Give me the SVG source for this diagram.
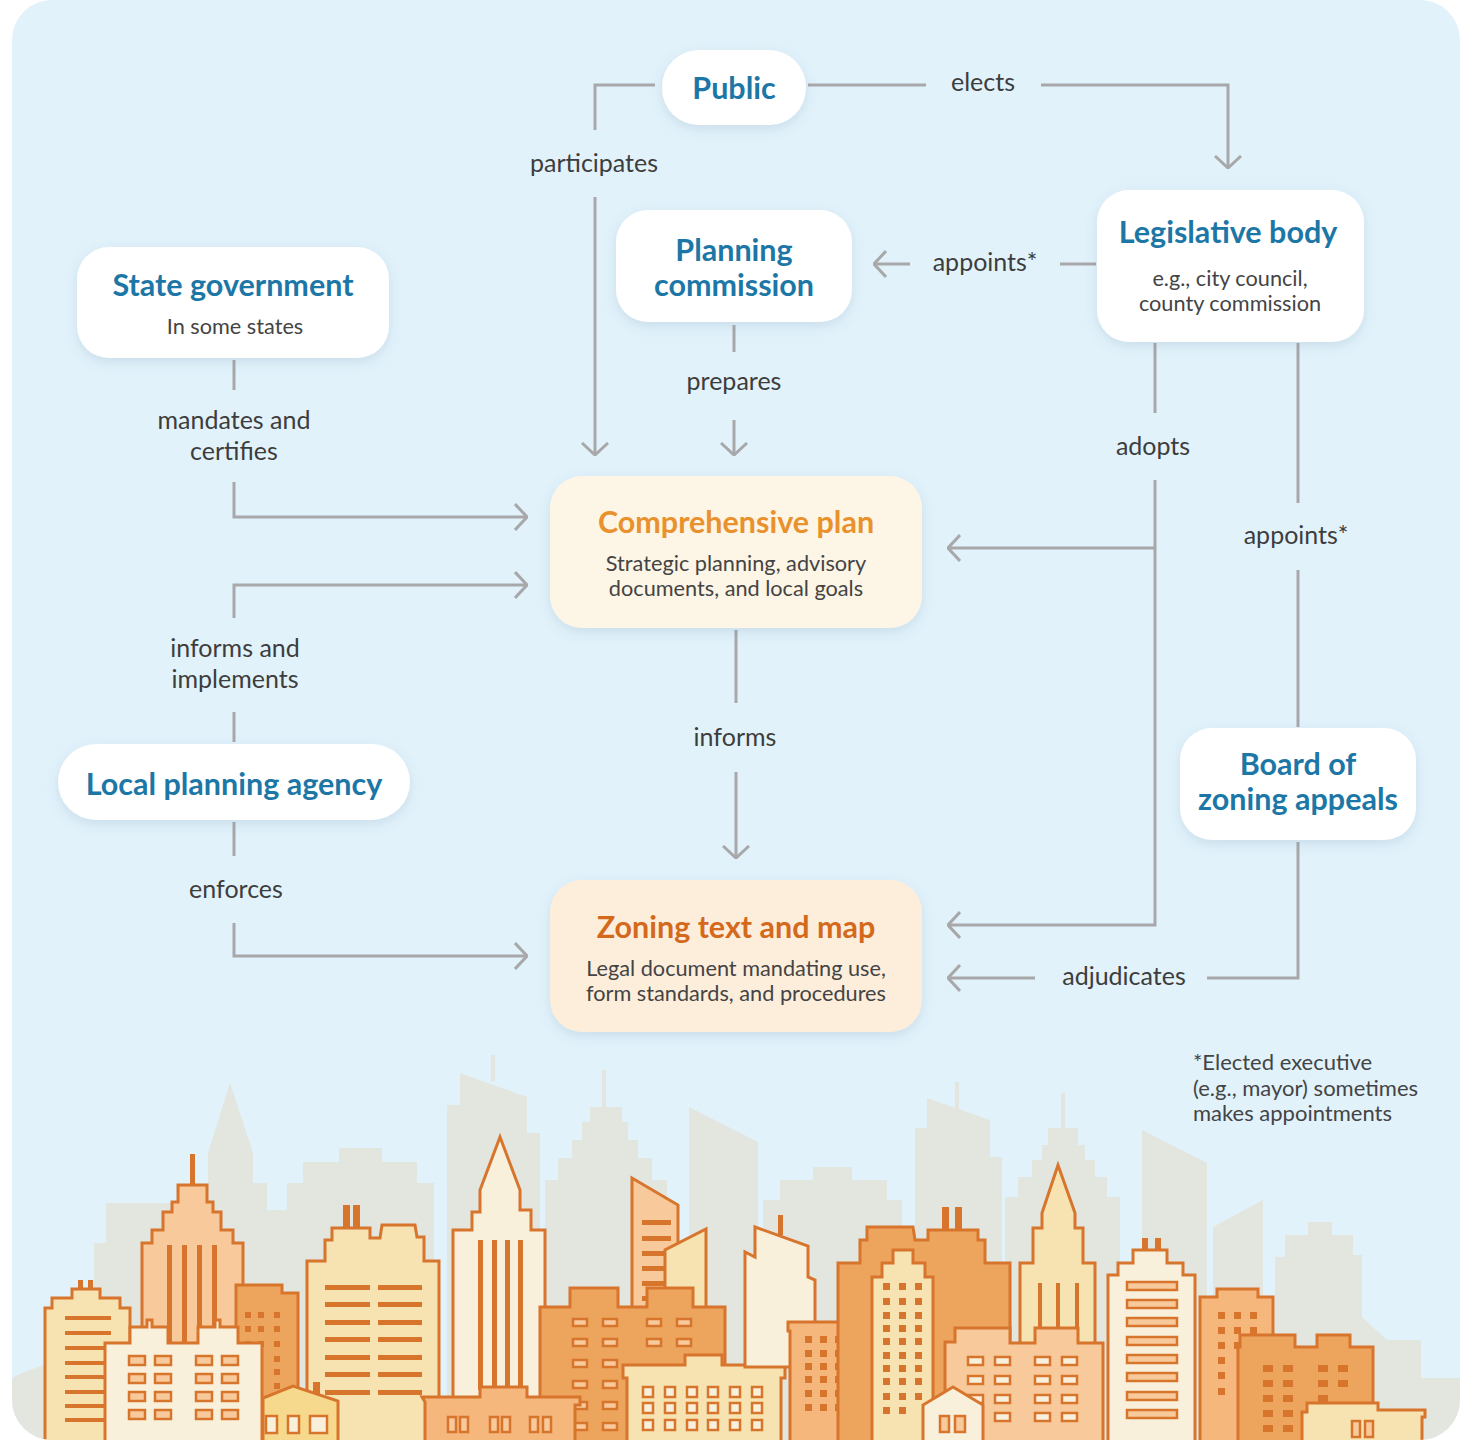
<svg xmlns="http://www.w3.org/2000/svg" width="1460" height="1440" viewBox="0 0 1460 1440">
  <defs>
    <style>
      .node { fill: #ffffff; filter: url(#shadow); }
      .plan { fill: #fdf5e5; filter: url(#shadow); }
      .zone { fill: #fdeedc; filter: url(#shadow); }
      .title { font-family: Lato, "Liberation Sans", sans-serif; font-weight: 700; font-size: 30.5px; fill: #1d77a6; text-anchor: middle; }
      .sub { font-family: Lato, "Liberation Sans", sans-serif; font-size: 21.7px; fill: #444444; text-anchor: middle; }
      .label { font-family: Lato, "Liberation Sans", sans-serif; font-size: 25px; fill: #3d3d3d; text-anchor: middle; }
      .note { font-family: Lato, "Liberation Sans", sans-serif; font-size: 22px; fill: #444444; }
      .edge { fill: none; stroke: #a8a8aa; stroke-width: 3; }
      .arrow { marker-end: url(#chev); }
      .bg-bld { fill: #e3e5df; }
      .bld { stroke: #d8752d; stroke-width: 3; stroke-linejoin: miter; }
      .yel { fill: #f7e3b2; }
      .crm { fill: #f9f0dc; }
      .lor { fill: #f8c99a; }
      .mor { fill: #f5b77c; }
      .org { fill: #eda55e; }
      .hse { fill: #f7d98d; }
      .dk { fill: #d8752d; }
      .win { fill: #f8c99a; stroke: #d8752d; stroke-width: 2.5; }
      .winc { fill: #f9f0dc; stroke: #d8752d; stroke-width: 2.5; }
    </style>
    <filter id="shadow" x="-20%" y="-30%" width="140%" height="170%">
      <feDropShadow dx="0" dy="4" stdDeviation="6" flood-color="#5a7f99" flood-opacity="0.18"/>
    </filter>
    <marker id="chev" viewBox="0 0 14 28" refX="13" refY="14" markerWidth="14" markerHeight="28" markerUnits="userSpaceOnUse" orient="auto">
      <path d="M1,1 L13,14 L1,27" fill="none" stroke="#a8a8aa" stroke-width="3"/>
    </marker>
    <clipPath id="panel">
      <rect x="12" y="0" width="1448" height="1440" rx="40"/>
    </clipPath>
  </defs>

  <!-- panel background -->
  <rect x="0" y="0" width="1460" height="1440" fill="#ffffff"/>
  <rect x="12" y="0" width="1448" height="1440" rx="40" fill="#e1f2fb"/>

  <!-- skyline -->
  <g id="skyline" clip-path="url(#panel)">
    <!-- distant grey silhouettes -->
    <g id="skyline-back">
      <path class="bg-bld" d="M12,1378 Q30,1368 70,1358 L70,1440 L12,1440 Z"/>
      <path class="bg-bld" d="M94,1440 L94,1243 L106,1243 L106,1203 L210,1203 L210,1440 Z"/>
      <path class="bg-bld" d="M208,1440 L208,1153 L230,1083 L253,1153 L253,1440 Z"/>
      <path class="bg-bld" d="M253,1440 L253,1183 L267,1183 L267,1210 L287,1210 L287,1183 L303,1183 L303,1162 L339,1162 L339,1148 L382,1148 L382,1162 L417,1162 L417,1183 L434,1183 L434,1440 Z"/>
      <path class="bg-bld" d="M447,1440 L447,1105 L460,1105 L460,1073 L527,1097 L527,1133 L540,1133 L540,1440 Z"/>
      <rect class="bg-bld" x="491" y="1055" width="4" height="26"/>
      <path class="bg-bld" d="M545,1440 L545,1180 L558,1180 L558,1158 L572,1158 L572,1140 L582,1140 L582,1122 L590,1122 L590,1107 L622,1107 L622,1122 L628,1122 L628,1140 L638,1140 L638,1158 L652,1158 L652,1180 L667,1180 L667,1440 Z"/>
      <rect class="bg-bld" x="602" y="1070" width="4" height="38"/>
      <path class="bg-bld" d="M689,1440 L689,1107 L758,1142 L758,1440 Z"/>
      <path class="bg-bld" d="M763,1440 L763,1200 L780,1200 L780,1180 L813,1180 L813,1167 L852,1167 L852,1180 L887,1180 L887,1200 L902,1200 L902,1440 Z"/>
      <path class="bg-bld" d="M915,1440 L915,1128 L927,1128 L927,1098 L990,1120 L990,1157 L1002,1157 L1002,1440 Z"/>
      <rect class="bg-bld" x="955" y="1082" width="4" height="30"/>
      <path class="bg-bld" d="M1005,1440 L1005,1197 L1018,1197 L1018,1177 L1032,1177 L1032,1160 L1042,1160 L1042,1145 L1048,1145 L1048,1128 L1078,1128 L1078,1145 L1085,1145 L1085,1160 L1095,1160 L1095,1177 L1107,1177 L1107,1197 L1120,1197 L1120,1440 Z"/>
      <rect class="bg-bld" x="1061" y="1093" width="4" height="36"/>
      <path class="bg-bld" d="M1142,1440 L1142,1130 L1207,1163 L1207,1440 Z"/>
      <path class="bg-bld" d="M1213,1440 L1213,1227 L1263,1200 L1263,1440 Z"/>
      <path class="bg-bld" d="M1275,1440 L1275,1257 L1285,1257 L1285,1235 L1308,1235 L1308,1222 L1332,1222 L1332,1235 L1353,1235 L1353,1255 L1362,1255 L1362,1317 L1387,1340 L1421,1340 L1421,1378 L1460,1378 L1460,1440 Z"/>
    </g>

    <!-- foreground buildings -->
    <g id="skyline-front">
      <!-- left striped block -->
      <path class="bld yel" d="M45,1445 L45,1308 L52,1308 L52,1298 L72,1298 L72,1289 L100,1289 L100,1298 L120,1298 L120,1308 L130,1308 L130,1445 Z"/>
      <rect class="dk" x="78" y="1280" width="5" height="10"/>
      <rect class="dk" x="88" y="1280" width="5" height="10"/>
      <g class="dk">
        <rect x="65" y="1316" width="46" height="4"/><rect x="65" y="1331" width="46" height="4"/>
        <rect x="65" y="1346" width="46" height="4"/><rect x="65" y="1361" width="46" height="4"/>
        <rect x="65" y="1375" width="46" height="4"/><rect x="65" y="1390" width="46" height="4"/>
        <rect x="65" y="1404" width="46" height="4"/><rect x="65" y="1418" width="46" height="4"/>
      </g>

      <!-- stepped spire tower -->
      <rect class="dk" x="190" y="1154" width="5" height="32"/>
      <path class="bld lor" d="M142,1445 L142,1243 L152,1243 L152,1230 L163,1230 L163,1212 L172,1212 L172,1202 L178,1202 L178,1185 L207,1185 L207,1202 L213,1202 L213,1212 L221,1212 L221,1230 L233,1230 L233,1243 L243,1243 L243,1445 Z"/>
      <g class="dk">
        <rect x="167" y="1245" width="5" height="97"/><rect x="182" y="1245" width="5" height="97"/>
        <rect x="197" y="1245" width="5" height="97"/><rect x="212" y="1245" width="5" height="97"/>
      </g>

      <!-- orange block behind -->
      <path class="bld org" d="M236,1445 L236,1285 L282,1285 L282,1293 L298,1293 L298,1445 Z"/>
      <g class="dk">
        <rect x="245" y="1312" width="6" height="6"/><rect x="258" y="1312" width="6" height="6"/><rect x="274" y="1312" width="6" height="6"/>
        <rect x="245" y="1326" width="6" height="6"/><rect x="258" y="1326" width="6" height="6"/><rect x="274" y="1326" width="6" height="6"/>
        <rect x="245" y="1341" width="6" height="6"/><rect x="258" y="1341" width="6" height="6"/><rect x="274" y="1341" width="6" height="6"/>
        <rect x="274" y="1356" width="6" height="6"/><rect x="274" y="1369" width="6" height="6"/><rect x="274" y="1383" width="6" height="6"/>
      </g>

      <!-- twin-column office block -->
      <rect class="dk" x="343" y="1205" width="7" height="24"/>
      <rect class="dk" x="353" y="1205" width="7" height="24"/>
      <path class="bld yel" d="M307,1445 L307,1261 L325,1261 L325,1240 L332,1240 L332,1228 L370,1228 L370,1238 L380,1238 L382,1225 L415,1225 L417,1237 L424,1237 L424,1261 L439,1261 L439,1445 Z"/>
      <g class="dk">
        <rect x="325" y="1285" width="45" height="5"/><rect x="378" y="1285" width="44" height="5"/>
        <rect x="325" y="1302" width="45" height="5"/><rect x="378" y="1302" width="44" height="5"/>
        <rect x="325" y="1320" width="45" height="5"/><rect x="378" y="1320" width="44" height="5"/>
        <rect x="325" y="1337" width="45" height="5"/><rect x="378" y="1337" width="44" height="5"/>
        <rect x="325" y="1355" width="45" height="5"/><rect x="378" y="1355" width="44" height="5"/>
        <rect x="325" y="1372" width="45" height="5"/><rect x="378" y="1372" width="44" height="5"/>
        <rect x="325" y="1390" width="45" height="5"/><rect x="378" y="1390" width="44" height="5"/>
      </g>

      <!-- low cream block -->
      <path class="bld crm" d="M105,1445 L105,1343 L130,1343 L130,1327 L147,1327 L147,1320 L152,1320 L152,1327 L168,1327 L168,1343 L198,1343 L198,1327 L215,1327 L215,1320 L220,1320 L220,1327 L238,1327 L238,1343 L262,1343 L262,1445 Z"/>
      <g class="win">
        <rect x="129" y="1356" width="16" height="9"/><rect x="155" y="1356" width="16" height="9"/><rect x="196" y="1356" width="16" height="9"/><rect x="222" y="1356" width="16" height="9"/>
        <rect x="129" y="1374" width="16" height="9"/><rect x="155" y="1374" width="16" height="9"/><rect x="196" y="1374" width="16" height="9"/><rect x="222" y="1374" width="16" height="9"/>
        <rect x="129" y="1392" width="16" height="9"/><rect x="155" y="1392" width="16" height="9"/><rect x="196" y="1392" width="16" height="9"/><rect x="222" y="1392" width="16" height="9"/>
        <rect x="129" y="1410" width="16" height="9"/><rect x="155" y="1410" width="16" height="9"/><rect x="196" y="1410" width="16" height="9"/><rect x="222" y="1410" width="16" height="9"/>
      </g>

      <!-- small house left -->
      <rect class="dk" x="313" y="1382" width="7" height="14"/>
      <path class="bld hse" d="M263,1445 L263,1398 L293,1386 L338,1401 L338,1445 Z"/>
      <g class="winc">
        <rect x="266" y="1416" width="11" height="17"/><rect x="288" y="1416" width="11" height="17"/><rect x="310" y="1416" width="17" height="17"/>
      </g>

      <!-- cream spire tower -->
      <path class="bld crm" d="M453,1445 L453,1230 L472,1230 L472,1212 L480,1212 L480,1190 L500,1137 L520,1190 L520,1210 L531,1210 L531,1230 L545,1230 L545,1445 Z"/>
      <g class="dk">
        <rect x="478" y="1240" width="5" height="150"/><rect x="492" y="1240" width="5" height="150"/>
        <rect x="505" y="1240" width="5" height="150"/><rect x="518" y="1240" width="5" height="150"/>
      </g>

      <!-- slanted light-orange tower -->
      <path class="bld lor" d="M632,1320 L632,1178 L678,1205 L678,1320 Z"/>
      <g class="dk">
        <rect x="642" y="1220" width="29" height="5"/><rect x="642" y="1236" width="29" height="5"/>
        <rect x="642" y="1251" width="29" height="5"/><rect x="642" y="1266" width="29" height="5"/>
        <rect x="642" y="1281" width="29" height="5"/><rect x="642" y="1296" width="29" height="5"/>
      </g>
      <!-- slanted yellow tower -->
      <path class="bld yel" d="M665,1320 L665,1250 L706,1229 L706,1320 Z"/>

      <!-- wide orange block -->
      <path class="bld org" d="M540,1445 L540,1307 L570,1307 L570,1288 L618,1288 L618,1307 L647,1307 L647,1288 L693,1288 L693,1307 L725,1307 L725,1445 Z"/>
      <g class="win">
        <rect x="573" y="1319" width="14" height="7"/><rect x="603" y="1319" width="14" height="7"/><rect x="647" y="1319" width="14" height="7"/><rect x="677" y="1319" width="14" height="7"/>
        <rect x="573" y="1339" width="14" height="7"/><rect x="603" y="1339" width="14" height="7"/><rect x="647" y="1339" width="14" height="7"/><rect x="677" y="1339" width="14" height="7"/>
        <rect x="573" y="1360" width="14" height="7"/><rect x="603" y="1360" width="14" height="7"/>
        <rect x="573" y="1381" width="14" height="7"/><rect x="603" y="1381" width="14" height="7"/>
        <rect x="573" y="1402" width="14" height="7"/><rect x="603" y="1402" width="14" height="7"/>
        <rect x="573" y="1423" width="14" height="7"/><rect x="603" y="1423" width="14" height="7"/>
      </g>

      <!-- low light-orange block -->
      <path class="bld mor" d="M425,1445 L425,1402 L422,1397 L480,1397 L480,1387 L527,1387 L527,1397 L580,1397 L580,1405 L575,1405 L575,1445 Z"/>
      <g class="win">
        <rect x="448" y="1417" width="8" height="15"/><rect x="460" y="1417" width="8" height="15"/>
        <rect x="490" y="1417" width="8" height="15"/><rect x="502" y="1417" width="8" height="15"/>
        <rect x="530" y="1417" width="8" height="15"/><rect x="543" y="1417" width="8" height="15"/>
      </g>

      <!-- yellow low block with window grid -->
      <path class="bld yel" d="M627,1445 L627,1378 L623,1378 L623,1365 L685,1365 L685,1355 L722,1355 L722,1365 L785,1365 L785,1378 L781,1378 L781,1445 Z"/>
      <g class="winc">
        <rect x="643" y="1387" width="10" height="10"/><rect x="665" y="1387" width="10" height="10"/><rect x="687" y="1387" width="10" height="10"/><rect x="708" y="1387" width="10" height="10"/><rect x="730" y="1387" width="10" height="10"/><rect x="752" y="1387" width="10" height="10"/>
        <rect x="643" y="1403" width="10" height="10"/><rect x="665" y="1403" width="10" height="10"/><rect x="687" y="1403" width="10" height="10"/><rect x="708" y="1403" width="10" height="10"/><rect x="730" y="1403" width="10" height="10"/><rect x="752" y="1403" width="10" height="10"/>
        <rect x="643" y="1420" width="10" height="10"/><rect x="665" y="1420" width="10" height="10"/><rect x="687" y="1420" width="10" height="10"/><rect x="708" y="1420" width="10" height="10"/><rect x="730" y="1420" width="10" height="10"/><rect x="752" y="1420" width="10" height="10"/>
      </g>

      <!-- cream slanted block -->
      <rect class="dk" x="778" y="1215" width="5" height="20"/>
      <path class="bld crm" d="M745,1367 L745,1252 L755,1257 L755,1227 L808,1246 L808,1277 L815,1280 L815,1367 Z"/>

      <!-- mid-orange block with dot windows -->
      <path class="bld mor" d="M790,1445 L790,1331 L788,1331 L788,1322 L860,1322 L860,1331 L857,1331 L857,1445 Z"/>
      <g class="dk">
        <rect x="805" y="1336" width="7" height="7"/><rect x="820" y="1336" width="7" height="7"/><rect x="835" y="1336" width="7" height="7"/>
        <rect x="805" y="1350" width="7" height="7"/><rect x="820" y="1350" width="7" height="7"/><rect x="835" y="1350" width="7" height="7"/>
        <rect x="805" y="1363" width="7" height="7"/><rect x="820" y="1363" width="7" height="7"/><rect x="835" y="1363" width="7" height="7"/>
        <rect x="805" y="1376" width="7" height="7"/><rect x="820" y="1376" width="7" height="7"/><rect x="835" y="1376" width="7" height="7"/>
        <rect x="805" y="1390" width="7" height="7"/><rect x="820" y="1390" width="7" height="7"/><rect x="835" y="1390" width="7" height="7"/>
        <rect x="805" y="1404" width="7" height="7"/><rect x="820" y="1404" width="7" height="7"/><rect x="835" y="1404" width="7" height="7"/>
      </g>

      <!-- large orange mass -->
      <rect class="dk" x="942" y="1207" width="7" height="24"/>
      <rect class="dk" x="955" y="1207" width="7" height="24"/>
      <path class="bld org" d="M838,1445 L838,1263 L860,1263 L860,1240 L867,1240 L867,1227 L913,1227 L915,1240 L928,1240 L928,1230 L978,1230 L978,1240 L985,1240 L985,1263 L1010,1263 L1010,1445 Z"/>

      <!-- yellow tower with dot windows -->
      <path class="bld yel" d="M872,1445 L872,1277 L882,1277 L882,1263 L893,1263 L893,1250 L913,1250 L913,1263 L925,1263 L925,1277 L933,1277 L933,1445 Z"/>
      <g class="dk">
        <rect x="883" y="1283" width="7" height="7"/><rect x="899" y="1283" width="7" height="7"/><rect x="915" y="1283" width="7" height="7"/>
        <rect x="883" y="1298" width="7" height="7"/><rect x="899" y="1298" width="7" height="7"/><rect x="915" y="1298" width="7" height="7"/>
        <rect x="883" y="1312" width="7" height="7"/><rect x="899" y="1312" width="7" height="7"/><rect x="915" y="1312" width="7" height="7"/>
        <rect x="883" y="1325" width="7" height="7"/><rect x="899" y="1325" width="7" height="7"/><rect x="915" y="1325" width="7" height="7"/>
        <rect x="883" y="1338" width="7" height="7"/><rect x="899" y="1338" width="7" height="7"/><rect x="915" y="1338" width="7" height="7"/>
        <rect x="883" y="1352" width="7" height="7"/><rect x="899" y="1352" width="7" height="7"/><rect x="915" y="1352" width="7" height="7"/>
        <rect x="883" y="1365" width="7" height="7"/><rect x="899" y="1365" width="7" height="7"/><rect x="915" y="1365" width="7" height="7"/>
        <rect x="883" y="1378" width="7" height="7"/><rect x="899" y="1378" width="7" height="7"/><rect x="915" y="1378" width="7" height="7"/>
        <rect x="883" y="1393" width="7" height="7"/><rect x="899" y="1393" width="7" height="7"/><rect x="915" y="1393" width="7" height="7"/>
        <rect x="883" y="1407" width="7" height="7"/><rect x="899" y="1407" width="7" height="7"/>
      </g>

      <!-- yellow spire right -->
      <path class="bld yel" d="M1020,1345 L1020,1263 L1033,1263 L1033,1228 L1042,1228 L1042,1213 L1058,1165 L1075,1213 L1075,1228 L1083,1228 L1083,1263 L1095,1263 L1095,1345 Z"/>
      <g class="dk">
        <rect x="1038" y="1283" width="4" height="44"/><rect x="1056" y="1283" width="4" height="44"/><rect x="1075" y="1283" width="4" height="44"/>
      </g>

      <!-- light-orange front block -->
      <path class="bld lor" d="M945,1445 L945,1342 L955,1342 L955,1328 L1010,1328 L1010,1343 L1035,1343 L1035,1328 L1078,1328 L1078,1343 L1103,1343 L1103,1445 Z"/>
      <g class="winc">
        <rect x="968" y="1357" width="15" height="8"/><rect x="995" y="1357" width="15" height="8"/><rect x="1035" y="1357" width="15" height="8"/><rect x="1062" y="1357" width="15" height="8"/>
        <rect x="968" y="1376" width="15" height="8"/><rect x="995" y="1376" width="15" height="8"/><rect x="1035" y="1376" width="15" height="8"/><rect x="1062" y="1376" width="15" height="8"/>
        <rect x="968" y="1395" width="15" height="8"/><rect x="995" y="1395" width="15" height="8"/><rect x="1035" y="1395" width="15" height="8"/><rect x="1062" y="1395" width="15" height="8"/>
        <rect x="995" y="1413" width="15" height="8"/><rect x="1035" y="1413" width="15" height="8"/><rect x="1062" y="1413" width="15" height="8"/>
      </g>

      <!-- small house right -->
      <path class="bld crm" d="M923,1445 L923,1405 L953,1387 L983,1405 L983,1445 Z"/>
      <g class="win">
        <rect x="940" y="1416" width="9" height="16"/><rect x="955" y="1416" width="10" height="16"/>
      </g>

      <!-- cream striped tower -->
      <rect class="dk" x="1142" y="1238" width="6" height="13"/>
      <rect class="dk" x="1155" y="1238" width="6" height="13"/>
      <path class="bld crm" d="M1108,1445 L1108,1275 L1118,1275 L1118,1263 L1133,1263 L1133,1250 L1167,1250 L1167,1263 L1183,1263 L1183,1275 L1195,1275 L1195,1445 Z"/>
      <g class="win">
        <rect x="1127" y="1282" width="50" height="8"/><rect x="1127" y="1300" width="50" height="8"/>
        <rect x="1127" y="1318" width="50" height="8"/><rect x="1127" y="1337" width="50" height="8"/>
        <rect x="1127" y="1355" width="50" height="8"/><rect x="1127" y="1373" width="50" height="8"/>
        <rect x="1127" y="1392" width="50" height="8"/><rect x="1127" y="1410" width="50" height="8"/>
      </g>

      <!-- mid-orange block right -->
      <path class="bld mor" d="M1200,1445 L1200,1297 L1217,1297 L1217,1289 L1258,1289 L1258,1297 L1273,1297 L1273,1445 Z"/>
      <g class="dk">
        <rect x="1218" y="1312" width="7" height="7"/><rect x="1234" y="1312" width="7" height="7"/><rect x="1250" y="1312" width="7" height="7"/>
        <rect x="1218" y="1327" width="7" height="7"/><rect x="1234" y="1327" width="7" height="7"/><rect x="1250" y="1327" width="7" height="7"/>
        <rect x="1218" y="1342" width="7" height="7"/><rect x="1234" y="1342" width="7" height="7"/>
        <rect x="1218" y="1357" width="7" height="7"/><rect x="1218" y="1372" width="7" height="7"/><rect x="1218" y="1388" width="7" height="7"/>
      </g>

      <!-- orange block right -->
      <path class="bld org" d="M1238,1445 L1238,1347 L1240,1347 L1240,1335 L1295,1335 L1295,1347 L1317,1347 L1317,1335 L1350,1335 L1350,1347 L1373,1347 L1373,1445 Z"/>
      <g class="dk">
        <rect x="1263" y="1365" width="10" height="7"/><rect x="1283" y="1365" width="10" height="7"/><rect x="1318" y="1365" width="10" height="7"/><rect x="1338" y="1365" width="10" height="7"/>
        <rect x="1263" y="1380" width="10" height="7"/><rect x="1283" y="1380" width="10" height="7"/><rect x="1318" y="1380" width="10" height="7"/><rect x="1338" y="1380" width="10" height="7"/>
        <rect x="1263" y="1395" width="10" height="7"/><rect x="1283" y="1395" width="10" height="7"/><rect x="1318" y="1395" width="10" height="7"/>
        <rect x="1263" y="1410" width="10" height="7"/><rect x="1283" y="1410" width="10" height="7"/>
        <rect x="1263" y="1425" width="10" height="7"/><rect x="1283" y="1425" width="10" height="7"/>
      </g>

      <!-- low yellow block right -->
      <path class="bld yel" d="M1302,1445 L1302,1412 L1307,1412 L1307,1403 L1378,1403 L1378,1410 L1425,1410 L1425,1417 L1422,1417 L1422,1445 Z"/>
      <g class="win">
        <rect x="1352" y="1421" width="8" height="16"/><rect x="1365" y="1421" width="8" height="16"/>
      </g>
    </g>
  </g>

  <!-- connectors -->
  <g id="connectors">
    <path class="edge" d="M655,85 L595,85 L595,130"/>
    <path class="edge arrow" d="M595,197 L595,455"/>
    <path class="edge" d="M808,85 L926,85"/>
    <path class="edge arrow" d="M1041,85 L1228,85 L1228,168"/>
    <path class="edge" d="M1096,264 L1060,264"/>
    <path class="edge arrow" d="M910,264 L874,264"/>
    <path class="edge" d="M734,325 L734,352"/>
    <path class="edge arrow" d="M734,420 L734,455"/>
    <path class="edge" d="M1155,343 L1155,413"/>
    <path class="edge arrow" d="M1155,480 L1155,925 L948,925"/>
    <path class="edge arrow" d="M1155,548 L948,548"/>
    <path class="edge" d="M1298,343 L1298,503"/>
    <path class="edge" d="M1298,570 L1298,727"/>
    <path class="edge" d="M1298,842 L1298,978 L1207,978"/>
    <path class="edge arrow" d="M1035,978 L948,978"/>
    <path class="edge" d="M234,360 L234,390"/>
    <path class="edge arrow" d="M234,482 L234,517 L527,517"/>
    <path class="edge" d="M234,742 L234,712"/>
    <path class="edge arrow" d="M234,618 L234,585 L527,585"/>
    <path class="edge" d="M736,630 L736,703"/>
    <path class="edge arrow" d="M736,772 L736,858"/>
    <path class="edge" d="M234,822 L234,856"/>
    <path class="edge arrow" d="M234,923 L234,956 L527,956"/>
  </g>

  <!-- connector labels -->
  <g id="edge-labels">
    <text class="label" x="594" y="172">participates</text>
    <text class="label" x="983" y="91">elects</text>
    <text class="label" x="985" y="271">appoints*</text>
    <text class="label" x="734" y="390">prepares</text>
    <text class="label" x="1153" y="455">adopts</text>
    <text class="label" x="234" y="429">mandates and</text>
    <text class="label" x="234" y="460">certifies</text>
    <text class="label" x="1296" y="544">appoints*</text>
    <text class="label" x="235" y="657">informs and</text>
    <text class="label" x="235" y="688">implements</text>
    <text class="label" x="735" y="746">informs</text>
    <text class="label" x="236" y="898">enforces</text>
    <text class="label" x="1124" y="985">adjudicates</text>
  </g>

  <!-- nodes -->
  <g id="node-public">
    <rect class="node" x="662" y="50" width="144" height="75" rx="37"/>
    <text class="title" x="734" y="99">Public</text>
  </g>
  <g id="node-legislative">
    <rect class="node" x="1097" y="190" width="267" height="152" rx="32"/>
    <text class="title" x="1228" y="243">Legislative body</text>
    <text class="sub" x="1230" y="286">e.g., city council,</text>
    <text class="sub" x="1230" y="311">county commission</text>
  </g>
  <g id="node-planning-commission">
    <rect class="node" x="616" y="210" width="236" height="112" rx="32"/>
    <text class="title" x="734" y="261">Planning</text>
    <text class="title" x="734" y="296">commission</text>
  </g>
  <g id="node-state">
    <rect class="node" x="77" y="247" width="312" height="111" rx="32"/>
    <text class="title" x="233" y="296">State government</text>
    <text class="sub" x="235" y="334">In some states</text>
  </g>
  <g id="node-comprehensive-plan">
    <rect class="plan" x="550" y="476" width="372" height="152" rx="32"/>
    <text class="title" x="736" y="533" style="fill:#e8912d">Comprehensive plan</text>
    <text class="sub" x="736" y="571">Strategic planning, advisory</text>
    <text class="sub" x="736" y="596">documents, and local goals</text>
  </g>
  <g id="node-local-agency">
    <rect class="node" x="58" y="744" width="352" height="76" rx="38"/>
    <text class="title" x="234" y="795">Local planning agency</text>
  </g>
  <g id="node-board">
    <rect class="node" x="1180" y="728" width="236" height="112" rx="32"/>
    <text class="title" x="1298" y="775">Board of</text>
    <text class="title" x="1298" y="810">zoning appeals</text>
  </g>
  <g id="node-zoning">
    <rect class="zone" x="550" y="880" width="372" height="152" rx="32"/>
    <text class="title" x="736" y="938" style="fill:#d4691c">Zoning text and map</text>
    <text class="sub" x="736" y="976">Legal document mandating use,</text>
    <text class="sub" x="736" y="1001">form standards, and procedures</text>
  </g>

  <!-- footnote -->
  <g id="footnote">
    <text class="note" x="1193" y="1070">*Elected executive</text>
    <text class="note" x="1193" y="1096">(e.g., mayor) sometimes</text>
    <text class="note" x="1193" y="1121">makes appointments</text>
  </g>
</svg>
